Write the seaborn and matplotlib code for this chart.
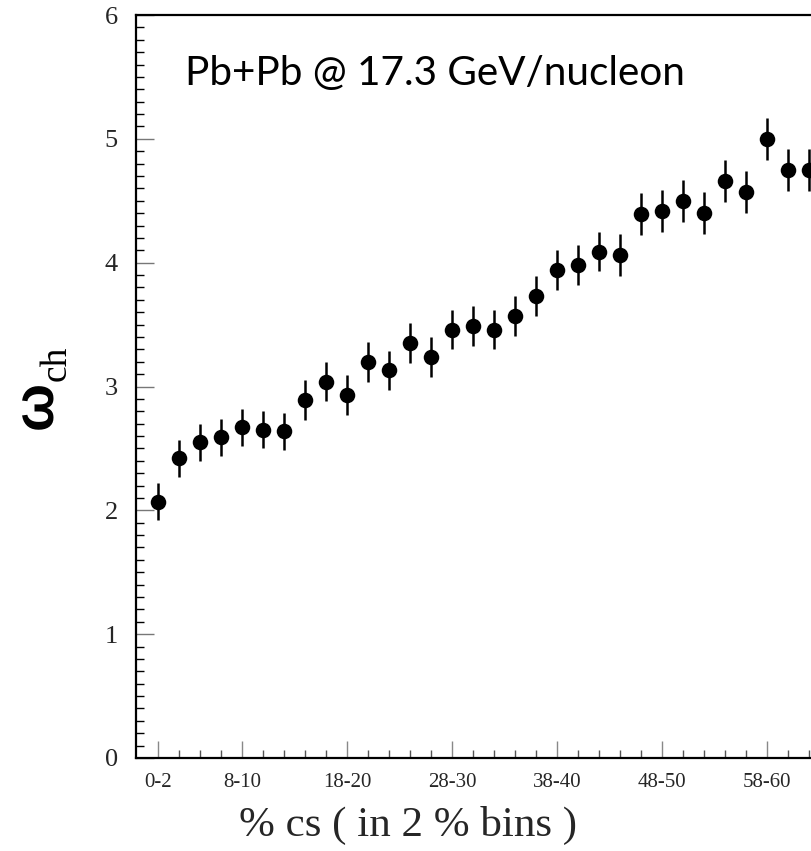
import numpy as np
import pandas as pd
import matplotlib
matplotlib.use('Agg')
import matplotlib.pyplot as plt
import seaborn as sns

sns.set_theme(style='white')
plt.rcParams['font.family'] = ['Liberation Serif', 'DejaVu Serif']

# centrality bins (2 % wide), index 0 = 0-2 %
bins = list(range(32))
omega = [2.07, 2.42, 2.55, 2.59, 2.67, 2.65, 2.64, 2.89, 3.04, 2.93,
         3.20, 3.13, 3.35, 3.24, 3.46, 3.49, 3.46, 3.57, 3.73, 3.94,
         3.98, 4.09, 4.06, 4.39, 4.42, 4.50, 4.40, 4.66, 4.57, 5.00,
         4.75, 4.75]
err = [0.15, 0.15, 0.15, 0.15, 0.15, 0.15, 0.15, 0.16, 0.16, 0.16,
       0.16, 0.16, 0.16, 0.16, 0.16, 0.16, 0.16, 0.16, 0.16, 0.16,
       0.16, 0.16, 0.17, 0.17, 0.17, 0.17, 0.17, 0.17, 0.17, 0.17,
       0.17, 0.17]
tick_bins = [0, 4, 9, 14, 19, 24, 29]
tick_labels = ['0-2', '8-10', '18-20', '28-30', '38-40', '48-50', '58-60']

df = pd.DataFrame({'bin': bins, 'omega': omega, 'err': err})

W, H = 811, 851
fig = plt.figure(figsize=(W / 100, H / 100), dpi=100)
x0, x1 = -1.05, 34.5
px_per_bin = 21
ax = fig.add_axes([136 / W, (H - 758) / H, (x1 - x0) * px_per_bin / W, 743 / H])

ax.errorbar(df['bin'], df['omega'], yerr=df['err'], fmt='none',
            ecolor='black', elinewidth=1.8, capsize=0, zorder=2)
sns.scatterplot(data=df, x='bin', y='omega', ax=ax, color='black',
                s=125, edgecolor='black', linewidth=0, zorder=3)

ax.set_xlim(x0, x1)
ax.set_ylim(0, 6)

ax.set_xticks(tick_bins)
ax.set_xticklabels(tick_labels, fontsize=15)
ax.set_xticks(range(35), minor=True)
ax.set_yticks(range(7))
ax.set_yticklabels([str(i) for i in range(7)], fontsize=19)
ax.set_yticks(np.arange(0, 6.01, 0.1), minor=True)

ax.tick_params(axis='both', which='both', bottom=True, left=True,
               top=False, right=False)
ax.tick_params(axis='y', which='major', direction='in', length=13,
               width=1.0, color='#777777', pad=13)
ax.tick_params(axis='y', which='minor', direction='in', length=6,
               width=1.0, color='black')
ax.tick_params(axis='x', which='major', direction='in', length=12,
               width=1.0, color='#888888', pad=11)
ax.tick_params(axis='x', which='minor', direction='in', length=6,
               width=1.0, color='#555555')

for side in ['left', 'bottom', 'top', 'right']:
    ax.spines[side].set_color('black')
    ax.spines[side].set_linewidth(1.6)

ax.set_ylabel('')
ax.set_xlabel('% cs ( in 2 % bins )', fontsize=31)
ax.xaxis.set_label_coords((408 - 136) / ((x1 - x0) * px_per_bin), -0.064)

# y label: bold omega with "ch" subscript, rotated
fig.text(52 / W, 1 - 405 / H, '\u03c9', family=['Liberation Sans', 'DejaVu Sans'],
         fontweight='bold', fontsize=41, rotation=90, rotation_mode='anchor',
         ha='center', va='baseline', color='black')
fig.text(66 / W, 1 - 363 / H, 'ch', fontsize=27, rotation=90,
         rotation_mode='anchor', ha='center', va='baseline', color='black')

fig.text(185 / W, 1 - 85 / H, 'Pb+Pb @ 17.3 GeV/nucleon',
         family=['Lato', 'DejaVu Sans'], fontsize=29.2, va='baseline',
         ha='left', color='black')

fig.savefig('out.png', dpi=100)
